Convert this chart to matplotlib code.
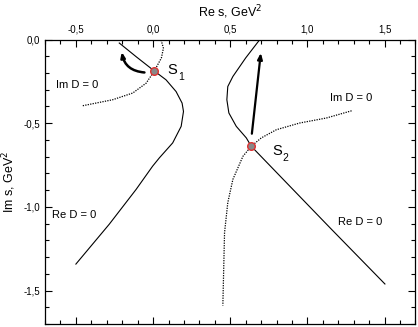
import matplotlib
matplotlib.use("Agg")
import matplotlib.pyplot as plt
from matplotlib.ticker import MultipleLocator, FuncFormatter
from matplotlib.patches import FancyArrowPatch
import numpy as np

plt.rcParams['font.family'] = ['Liberation Sans', 'DejaVu Sans']

# Re D = 0, left branch
re1_x = [-0.219, -0.108, 0.008, 0.084, 0.149, 0.188, 0.197, 0.182, 0.127, 0.041, -0.003, -0.110, -0.284, -0.392, -0.500]
re1_y = [-0.021, -0.104, -0.188, -0.241, -0.311, -0.380, -0.430, -0.519, -0.618, -0.707, -0.757, -0.896, -1.104, -1.223, -1.342]
# Im D = 0, left branch
im1_x = [0.052, 0.067, 0.054, 0.008, -0.045, -0.132, -0.262, -0.457]
im1_y = [-0.003, -0.052, -0.110, -0.188, -0.261, -0.320, -0.360, -0.396]
# Re D = 0, right branch
re2_x = [0.686, 0.600, 0.517, 0.484, 0.478, 0.491, 0.539, 0.604, 0.636, 1.145, 1.502]
re2_y = [-0.007, -0.110, -0.221, -0.281, -0.360, -0.439, -0.519, -0.588, -0.638, -1.124, -1.461]
# Im D = 0, right branch
im2_x = [1.286, 1.123, 0.950, 0.799, 0.701, 0.636, 0.582, 0.517, 0.484, 0.463, 0.452]
im2_y = [-0.426, -0.469, -0.499, -0.539, -0.588, -0.638, -0.698, -0.836, -0.975, -1.154, -1.590]
# poles
pole_x = [0.008, 0.636]
pole_y = [-0.188, -0.638]

fig = plt.figure(figsize=(4.18, 3.27), dpi=100)
ax = fig.add_axes([0.1077, 0.0092, 0.8863, 0.8700])

ax.plot(re1_x, re1_y, color='black', lw=0.8)
ax.plot(re2_x, re2_y, color='black', lw=0.8)
ax.plot(im1_x, im1_y, color='black', lw=0.9, ls=(0, (1, 1)))
ax.plot(im2_x, im2_y, color='black', lw=0.9, ls=(0, (1, 1)))

ax.scatter(pole_x, pole_y, s=30, facecolor='#888888', edgecolor='#e03030', linewidths=1.0, zorder=5)

# arrows
a1 = FancyArrowPatch((-0.056, -0.197), (-0.203, -0.074), connectionstyle="arc3,rad=-0.38",
                     arrowstyle='-|>,head_length=3,head_width=1.2', lw=1.8, color='black',
                     shrinkA=0, shrinkB=0)
ax.add_patch(a1)
a2 = FancyArrowPatch((0.640, -0.563), (0.698, -0.080),
                     arrowstyle='-|>,head_length=3.5,head_width=1.4', lw=1.6, color='black',
                     shrinkA=0, shrinkB=0)
ax.add_patch(a2)

# labels
ax.text(0.095, -0.182, "S", fontsize=10.5, va='center', ha='left')
ax.text(0.160, -0.222, "1", fontsize=7.5, va='center', ha='left')
ax.text(0.773, -0.668, "S", fontsize=10.5, va='center', ha='left')
ax.text(0.836, -0.711, "2", fontsize=7.5, va='center', ha='left')

ax.text(-0.63, -0.271, "Im D = 0", fontsize=8, va='center', ha='left')
ax.text(1.147, -0.35, "Im D = 0", fontsize=8, va='center', ha='left')
ax.text(1.199, -1.09, "Re D = 0", fontsize=8, va='center', ha='left')
ax.text(-0.652, -1.049, "Re D = 0", fontsize=8, va='center', ha='left')

ax.set_xlim(-0.7, 1.7)
ax.set_ylim(-1.7, 0.0)

fmt = FuncFormatter(lambda v, p: ("%.1f" % v).replace('.', ',').replace('-0,0', '0,0'))
ax.xaxis.set_major_locator(MultipleLocator(0.5))
ax.xaxis.set_minor_locator(MultipleLocator(0.1))
ax.yaxis.set_major_locator(MultipleLocator(0.5))
ax.yaxis.set_minor_locator(MultipleLocator(0.1))
ax.xaxis.set_major_formatter(fmt)
ax.yaxis.set_major_formatter(fmt)
ax.tick_params(which='both', direction='in', top=True, bottom=True, left=True, right=True,
               labeltop=True, labelbottom=False, labelsize=7, width=0.8)
ax.tick_params(which='major', length=5)
ax.tick_params(which='minor', length=3)
ax.xaxis.set_label_position('top')
ax.set_xlabel("Re s, GeV$^2$", fontsize=9, labelpad=6)
ax.set_ylabel("Im s, GeV$^2$", fontsize=9, labelpad=4)
for s in ax.spines.values():
    s.set_linewidth(0.9)

fig.savefig("out.png", dpi=100)
